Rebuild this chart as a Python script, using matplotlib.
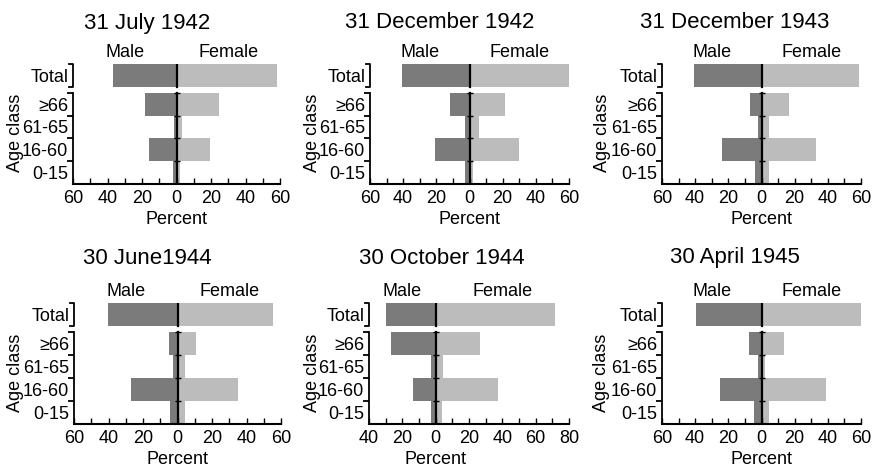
import matplotlib
matplotlib.use("Agg")
import matplotlib.pyplot as plt
import matplotlib.transforms as mtransforms
import numpy as np

plt.rcParams['font.family'] = ['Liberation Sans Narrow', 'Liberation Sans', 'DejaVu Sans']

# data: order 0-15, 16-60, 61-65, >=66, Total
titles = ["31 July 1942", "31 December 1942", "31 December 1943",
          "30 June1944", "30 October 1944", "30 April 1945"]
categories = ["0-15", "16-60", "61-65", "\u226566", "Total"]

male = [
    [2.0, 16.0, 1.7, 18.0, 37.0],
    [2.8, 21.0, 2.8, 11.7, 41.0],
    [3.8, 24.0, 2.2, 7.0, 41.0],
    [4.2, 27.0, 2.5, 5.0, 40.5],
    [3.0, 13.7, 2.6, 27.0, 29.7],
    [4.8, 25.0, 2.0, 7.5, 39.4],
]
female = [
    [2.0, 19.5, 3.0, 24.5, 58.0],
    [2.4, 30.0, 5.9, 21.4, 60.0],
    [4.6, 33.0, 4.8, 16.7, 59.0],
    [4.5, 35.0, 4.5, 10.6, 55.5],
    [3.6, 37.5, 4.4, 26.3, 71.5],
    [4.8, 39.0, 2.0, 13.7, 60.6],
]
xlims = [(-60, 60), (-60, 60), (-60, 60), (-60, 60), (-40, 80), (-60, 60)]

W, H = 872, 467
fig = plt.figure(figsize=(W / 100, H / 100), dpi=100)

# axes boxes in pixels: left, right, top, bottom
boxes = [
    (73, 280, 64, 184), (370, 569, 64, 184), (662, 861, 64, 184),
    (74, 281, 303, 424), (369, 569, 303, 424), (662, 861, 303, 424),
]
title_pos = [(147, 23), (440, 23), (735, 23), (147, 258), (442, 258), (735, 258)]
agelab_x = [15, 312, 602, 15, 312, 601]

MALE_C = "#7b7b7b"
FEMALE_C = "#bcbcbc"
FS = 13

ypos = np.array([0, 1, 2, 3, 4.26])
gap_top = 3.5
tot_lo, tot_hi = 3.76, 4.76

for i in range(6):
    l, r, t, b = boxes[i]
    ax = fig.add_axes([l / W, 1 - b / H, (r - l) / W, (b - t) / H])
    m = np.array(male[i])
    f = np.array(female[i])
    ax.barh(ypos, -m, height=1.0, color=MALE_C, edgecolor="none")
    ax.barh(ypos, f, height=1.0, color=FEMALE_C, edgecolor="none")

    ax.set_xlim(*xlims[i])
    ax.set_ylim(-0.5, tot_hi)

    # zero line, split between total and age classes
    ax.plot([0, 0], [-0.5, gap_top], color="black", lw=1.6)
    ax.plot([0, 0], [tot_lo, tot_hi], color="black", lw=1.6)
    ax.plot([0, 0, 0, 0], [0.5, 1.5, 2.5, 3.5], ls="none", marker="_",
            ms=5, mew=1.0, color="black")

    for s in ["top", "right"]:
        ax.spines[s].set_visible(False)
    ax.spines["bottom"].set_linewidth(1.5)
    ax.spines["left"].set_linewidth(1.3)
    ax.spines["left"].set_bounds(-0.5, gap_top)

    # bracket for total
    trans = mtransforms.blended_transform_factory(ax.transAxes, ax.transData)
    hook = 4 / (r - l)
    ax.plot([-hook, 0, 0, -hook], [tot_lo, tot_lo, tot_hi, tot_hi],
            color="black", lw=1.3, transform=trans, clip_on=False)

    lo, hi = xlims[i]
    major = np.arange(lo, hi + 1, 20)
    ax.set_xticks(major)
    ax.set_xticklabels([str(abs(int(v))) for v in major])
    ax.set_xticks(np.arange(lo, hi + 1, 10), minor=True)
    ax.tick_params(axis="x", which="both", direction="in", length=4,
                   width=1.0, labelsize=FS, pad=4)

    ax.set_yticks(ypos)
    ax.set_yticklabels(categories)
    ax.set_yticks([0.5, 1.5, 2.5, 3.5], minor=True)
    ax.tick_params(axis="y", which="major", length=0, labelsize=FS, pad=3.5)
    ax.tick_params(axis="y", which="minor", direction="out", length=4, width=1.3)

    # Male / Female headers
    ht = mtransforms.blended_transform_factory(ax.transData, ax.transAxes)
    ax.annotate("Male", xy=(lo / 2, 1), xycoords=ht, xytext=(0, 11),
                textcoords="offset pixels", ha="center", va="center", fontsize=FS)
    ax.annotate("Female", xy=(hi / 2, 1), xycoords=ht, xytext=(0, 11),
                textcoords="offset pixels", ha="center", va="center", fontsize=FS)
    ax.annotate("Percent", xy=(0, 0), xycoords=ht, xytext=(0, -36),
                textcoords="offset pixels", ha="center", va="center", fontsize=FS)

    fig.text(title_pos[i][0] / W, 1 - title_pos[i][1] / H, titles[i],
             ha="center", va="center", fontsize=16)
    fig.text(agelab_x[i] / W, 1 - (b - 51) / H, "Age class", rotation=90,
             ha="center", va="center", fontsize=FS)

fig.savefig("out.png", dpi=100)
